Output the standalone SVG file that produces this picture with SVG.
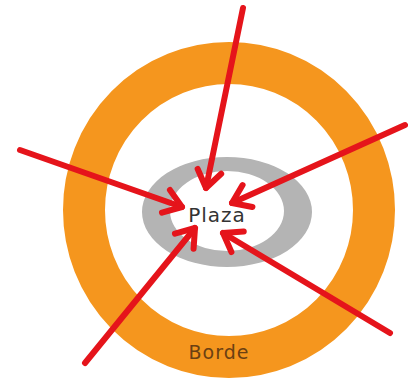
<svg xmlns="http://www.w3.org/2000/svg" width="408" height="383" viewBox="0 0 408 383">
<style>
.ring{fill:none;stroke:#F5961E;stroke-width:42}
.plaza{fill:#B4B4B4;fill-rule:evenodd}
.conn{stroke:#E5141B;stroke-width:6;fill:none;stroke-linecap:round}
.lbl{font-family:"DejaVu Sans","Liberation Sans",sans-serif;text-anchor:middle;letter-spacing:1px}
</style>
<defs>
<marker id="ah" markerUnits="userSpaceOnUse" markerWidth="40" markerHeight="40" viewBox="-25 -20 40 40" refX="0" refY="0" orient="auto">
<path d="M-17,-12 L0,0 L-17,12" fill="none" stroke="#E5141B" stroke-width="6" stroke-linecap="round" stroke-linejoin="round"/>
</marker>
</defs>
<rect width="408" height="383" fill="#fff"/>
<g id="borde">
<ellipse class="ring" cx="229" cy="210" rx="145" ry="147"/>
<text class="lbl" x="219" y="359" font-size="19" fill="#6B4012">Borde</text>
</g>
<g id="plaza">
<path class="plaza" d="M142,212 a85,55 0 1,0 170,0 a85,55 0 1,0 -170,0 Z M170,211 a57,40 0 1,0 114,0 a57,40 0 1,0 -114,0 Z"/>
<text class="lbl" x="217" y="222" font-size="20" fill="#333">Plaza</text>
</g>
<g id="connectors">
<line class="conn" x1="243" y1="8" x2="206" y2="188" marker-end="url(#ah)"/>
<line class="conn" x1="20" y1="150" x2="182" y2="207" marker-end="url(#ah)"/>
<line class="conn" x1="405" y1="125" x2="232" y2="203" marker-end="url(#ah)"/>
<line class="conn" x1="85" y1="363" x2="195" y2="228" marker-end="url(#ah)"/>
<line class="conn" x1="390" y1="333" x2="223" y2="233" marker-end="url(#ah)"/>
</g>
</svg>
